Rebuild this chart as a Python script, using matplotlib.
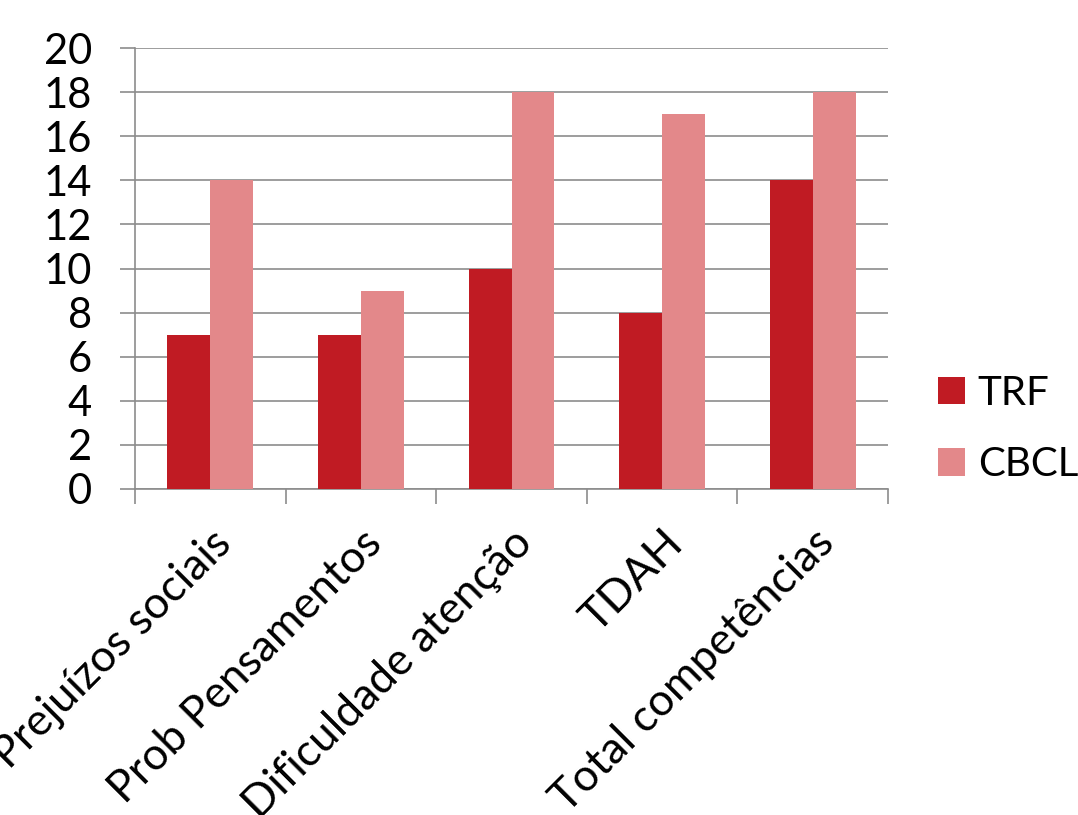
import numpy as np
import matplotlib.pyplot as plt

categories = ["Prejuízos sociais", "Prob Pensamentos", "Dificuldade atenção", "TDAH", "Total competências"]
trf = [7, 7, 10, 8, 14]
cbcl = [14, 9, 18, 17, 18]

plt.rcParams['font.family'] = ['Lato', 'DejaVu Sans']

fig = plt.figure(figsize=(10.78, 8.15), dpi=100)
ax = fig.add_axes([135 / 1078, 1 - 489 / 815, (888 - 135) / 1078, (489 - 48) / 815])

x = np.arange(len(categories))
w = 0.285
ax.bar(x - w / 2, trf, w, color="#C01B23", label="TRF", zorder=3)
ax.bar(x + w / 2, cbcl, w, color="#E3888A", label="CBCL", zorder=3)

ax.set_xlim(-0.5, len(categories) - 0.5)
ax.set_ylim(0, 20)
ax.set_yticks(range(0, 21, 2))
ax.tick_params(axis='y', labelsize=30, length=11, color="#8c8c8c", width=1.2, pad=20)
ax.grid(axis='y', color="#8c8c8c", linewidth=1.2, zorder=0)

ax.set_xticks(x)
ax.set_xticklabels(categories, rotation=45, ha='right', rotation_mode='anchor', fontsize=32)
ax.tick_params(axis='x', length=0, pad=24)
ax.set_xticks(np.arange(-0.5, len(categories)), minor=True)
ax.tick_params(axis='x', which='minor', length=11, width=1.2, color="#8c8c8c")

for s in ['top', 'right']:
    ax.spines[s].set_visible(False)
for s in ['left', 'bottom']:
    ax.spines[s].set_color("#8c8c8c")
    ax.spines[s].set_linewidth(1.2)

fig.legend(loc='center left', bbox_to_anchor=(938 / 1078, 1 - 429 / 815), frameon=False,
           fontsize=29, handlelength=0.67, handleheight=0.67, labelspacing=0.85,
           handletextpad=0.32, borderpad=0, borderaxespad=0)

fig.savefig("out.png", dpi=100)
